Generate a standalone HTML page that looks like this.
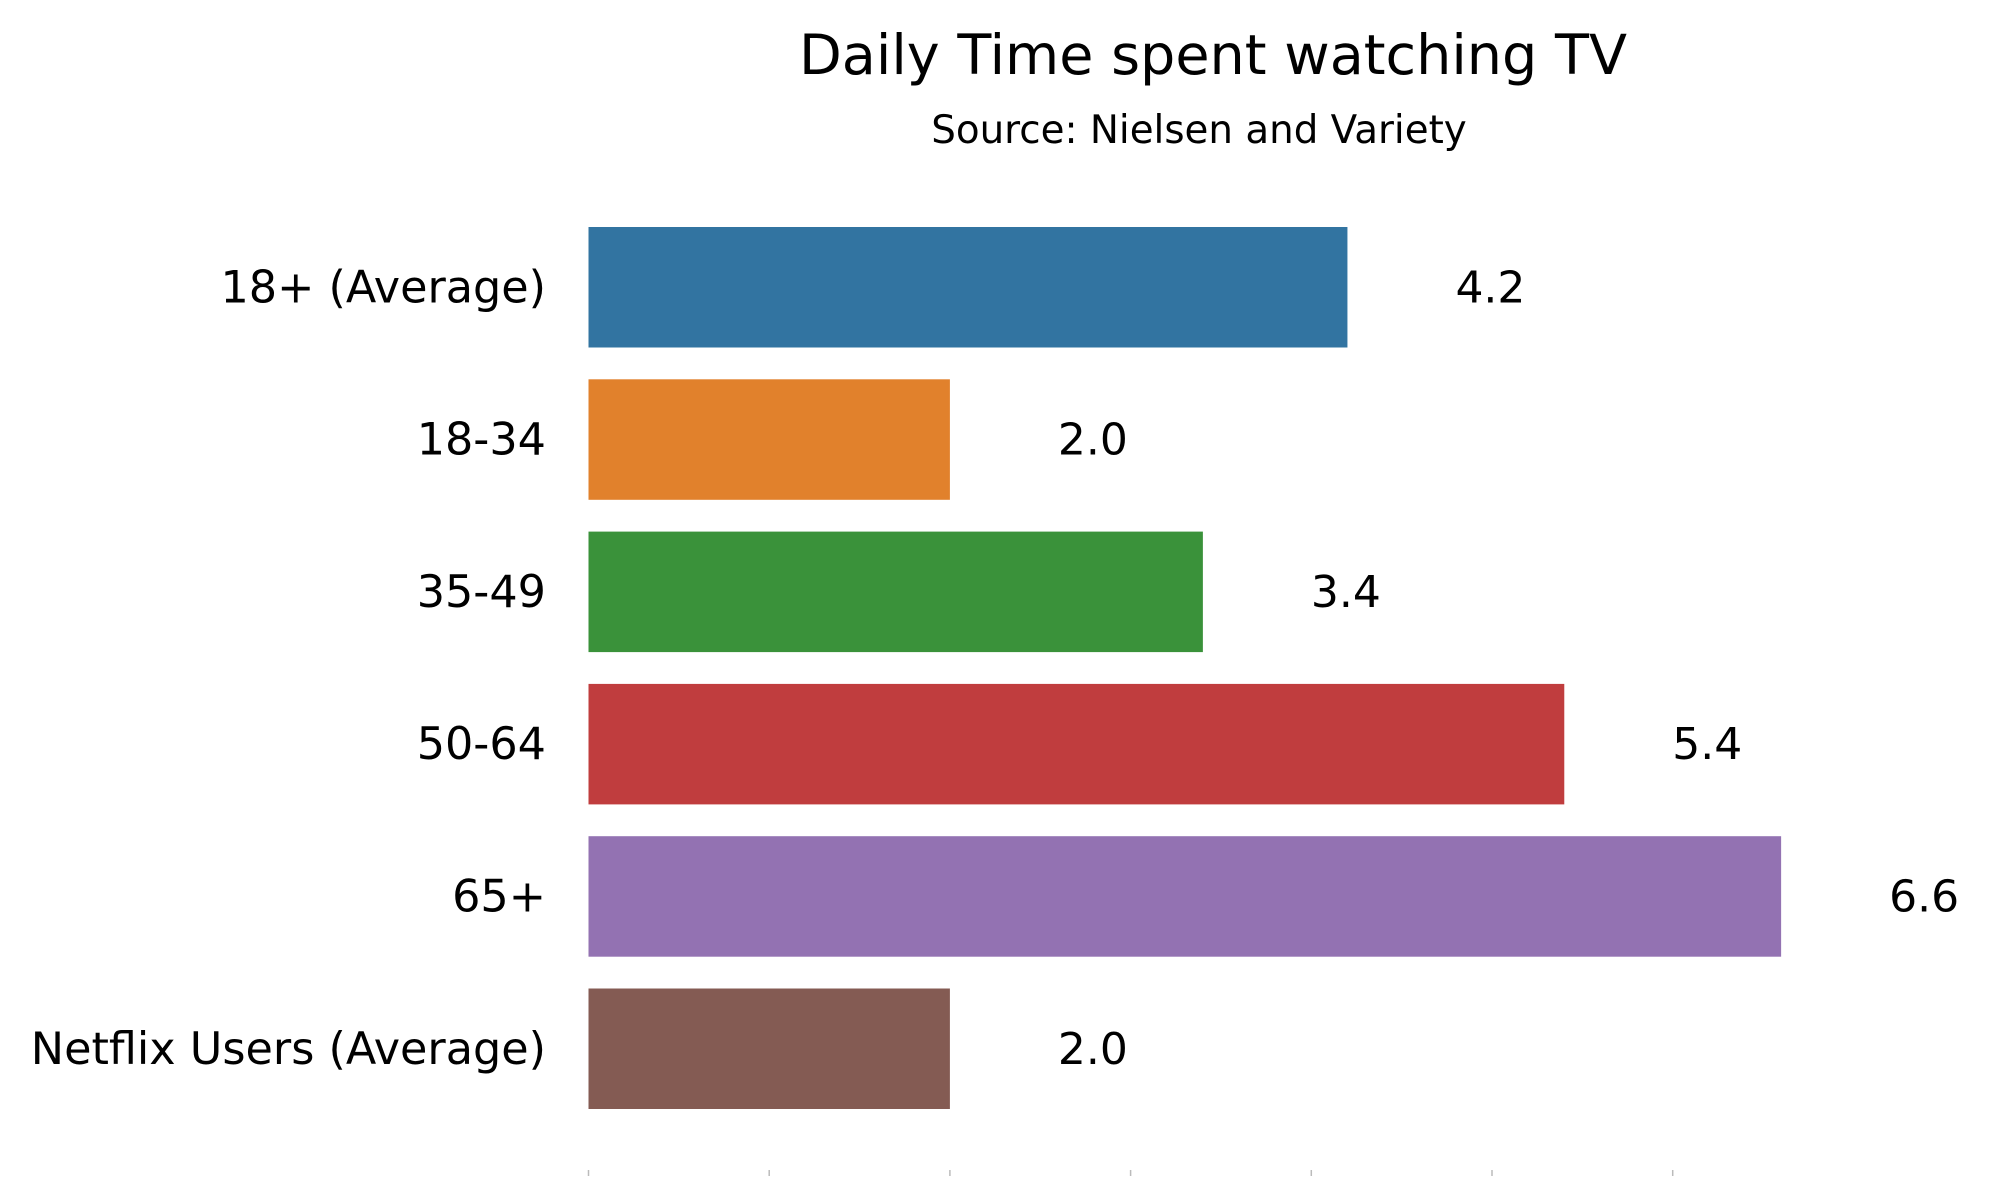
<!DOCTYPE html>
<html><head><meta charset="utf-8"><style>
html,body{margin:0;padding:0;background:#fff;}
svg{display:block;font-family:"DejaVu Sans","Liberation Sans",sans-serif;}
</style></head><body>
<svg id="chart" width="2000" height="1200">
<text x="1213" y="74" font-size="55.6" text-anchor="middle" fill="#000">Daily Time spent watching TV</text>
<text x="1199" y="143" font-size="38.8" text-anchor="middle" fill="#000">Source: Nielsen and Variety</text>
<g id="bars"></g>
</svg>
<script>
const categories = ["18+ (Average)", "18-34", "35-49", "50-64", "65+", "Netflix Users (Average)"];
const values = [4.2, 2.0, 3.4, 5.4, 6.6, 2.0];
const colors = ["#3274a1", "#e1812c", "#3a923a", "#c03d3e", "#9372b2", "#845b53"];
const ticks = [0, 1, 2, 3, 4, 5, 6];
const ns = "http://www.w3.org/2000/svg";
const g = document.getElementById("bars");
const x0 = 588.5, unit = 180.7, top0 = 227, pitch = 152.3, bh = 120.5;
const xs = v => x0 + v * unit;
const ys = i => top0 + i * pitch;
categories.forEach((c, i) => {
  const r = document.createElementNS(ns, "rect");
  r.setAttribute("x", xs(0)); r.setAttribute("y", ys(i));
  r.setAttribute("width", xs(values[i]) - xs(0)); r.setAttribute("height", bh);
  r.setAttribute("fill", colors[i]);
  
  
  g.appendChild(r);
  const l = document.createElementNS(ns, "text");
  l.setAttribute("x", 546); l.setAttribute("y", ys(i) + bh / 2 + 15);
  l.setAttribute("text-anchor", "end"); l.setAttribute("font-size", "44.5");
  l.textContent = c;
  
  
  g.appendChild(l);
  const v = document.createElementNS(ns, "text");
  v.setAttribute("x", xs(values[i]) + 108); v.setAttribute("y", ys(i) + bh / 2 + 15);
  v.setAttribute("font-size", "44");
  v.textContent = values[i].toFixed(1);
  
  
  g.appendChild(v);
});
ticks.forEach(t => {
  const k = document.createElementNS(ns, "line");
  k.setAttribute("x1", xs(t)); k.setAttribute("x2", xs(t));
  k.setAttribute("y1", 1170); k.setAttribute("y2", 1176);
  k.setAttribute("stroke", "#bbb"); k.setAttribute("stroke-width", "1.5");
  
  
  g.appendChild(k);
});
</script>
</body></html>
